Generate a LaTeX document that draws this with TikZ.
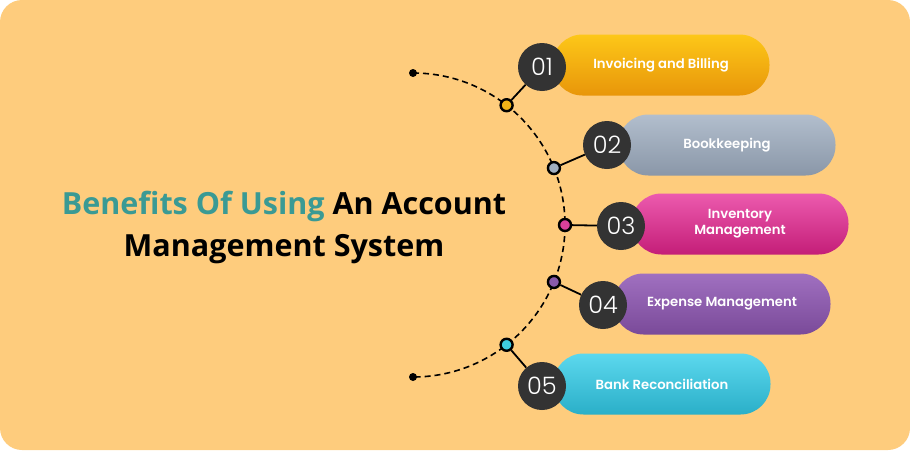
\documentclass[tikz,border=0pt]{standalone}
\usepackage{fontspec}
\setmainfont{Open Sans}
\newfontfamily\pillfont{Poppins SemiBold}
\newfontfamily\numfont{Poppins Light}
\usetikzlibrary{calc}

\definecolor{bgorange}{RGB}{254,204,125}
\definecolor{titleteal}{RGB}{58,154,148}
\definecolor{numgray}{RGB}{51,51,51}
\definecolor{goldtop}{RGB}{253,199,24}
\definecolor{goldbot}{RGB}{232,150,10}
\definecolor{slatetop}{RGB}{178,190,205}
\definecolor{slatebot}{RGB}{138,151,168}
\definecolor{pinktop}{RGB}{236,90,174}
\definecolor{pinkbot}{RGB}{196,30,120}
\definecolor{violettop}{RGB}{160,112,192}
\definecolor{violetbot}{RGB}{122,74,153}
\definecolor{cyantop}{RGB}{92,216,238}
\definecolor{cyanbot}{RGB}{42,175,200}
\definecolor{dotgold}{RGB}{240,180,24}
\definecolor{dotslate}{RGB}{160,174,192}
\definecolor{dotpink}{RGB}{217,64,154}
\definecolor{dotviolet}{RGB}{138,90,170}
\definecolor{dotcyan}{RGB}{62,203,224}

\begin{document}
\begin{tikzpicture}[x=1pt, y=1pt]
\tikzset{pill/.style={rounded corners=30pt, minimum width=217pt, minimum height=61pt,
  inner sep=0pt, text=white, align=center, font=\pillfont\fontsize{13.2}{16}\selectfont},
numnode/.style={circle, fill=numgray, minimum size=48pt, inner sep=0pt, text=white,
  font=\numfont\fontsize{24}{24}\selectfont},
stopdot/.style={circle, draw=black, line width=2.4pt, minimum size=12pt, inner sep=0pt},
enddot/.style={circle, fill=black, minimum size=8pt, inner sep=0pt},
link/.style={line width=1.8pt}}

\useasboundingbox (0,0) rectangle (910,-450);
\fill[white] (0,0) rectangle (910,-450);
\fill[bgorange, rounded corners=22pt] (0,0) rectangle (910,-450);

%% Title
\node (title) [align=center, font=\bfseries\fontsize{30.5}{42}\selectfont] at (284,-227)
  {\textcolor{titleteal}{Benefits Of Using} An Account\\Management System};

%% Dashed arc
\coordinate (ctr) at (413,-225);
\node (e1) [enddot] at ($(ctr)+(90:152)$) {};
\node (e2) [enddot] at ($(ctr)+(-90:152)$) {};
\draw[line width=1.6pt, dash pattern=on 6pt off 4pt] (e1.center) arc (90:-90:152);

%% Pills
\node (p1) [pill, top color=goldtop, bottom color=goldbot] at (661,-65) {Invoicing and Billing};
\node (p2) [pill, top color=slatetop, bottom color=slatebot] at (727,-145) {Bookkeeping};
\node (p3) [pill, top color=pinktop, bottom color=pinkbot] at (740,-224) {Inventory\\Management};
\node (p4) [pill, top color=violettop, bottom color=violetbot] at (722,-304) {Expense Management};
\node (p5) [pill, top color=cyantop, bottom color=cyanbot] at (662,-384) {Bank Reconciliation};

%% Stops on the arc
\foreach \i/\ang/\col in {1/52/dotgold, 2/22/dotslate, 3/0/dotpink, 4/-22/dotviolet, 5/-52/dotcyan}
  \node (d\i) [stopdot, fill=\col] at ($(ctr)+(\ang:152)$) {};

%% Number badges
\node (n1) [numnode] at (542,-67) {01};
\node (n2) [numnode] at (607,-145) {02};
\node (n3) [numnode] at (621,-226) {03};
\node (n4) [numnode] at (603,-305) {04};
\node (n5) [numnode] at (542,-386) {05};

\foreach \i in {1,...,5} \draw[link] (d\i) -- (n\i);

\end{tikzpicture}
\end{document}
